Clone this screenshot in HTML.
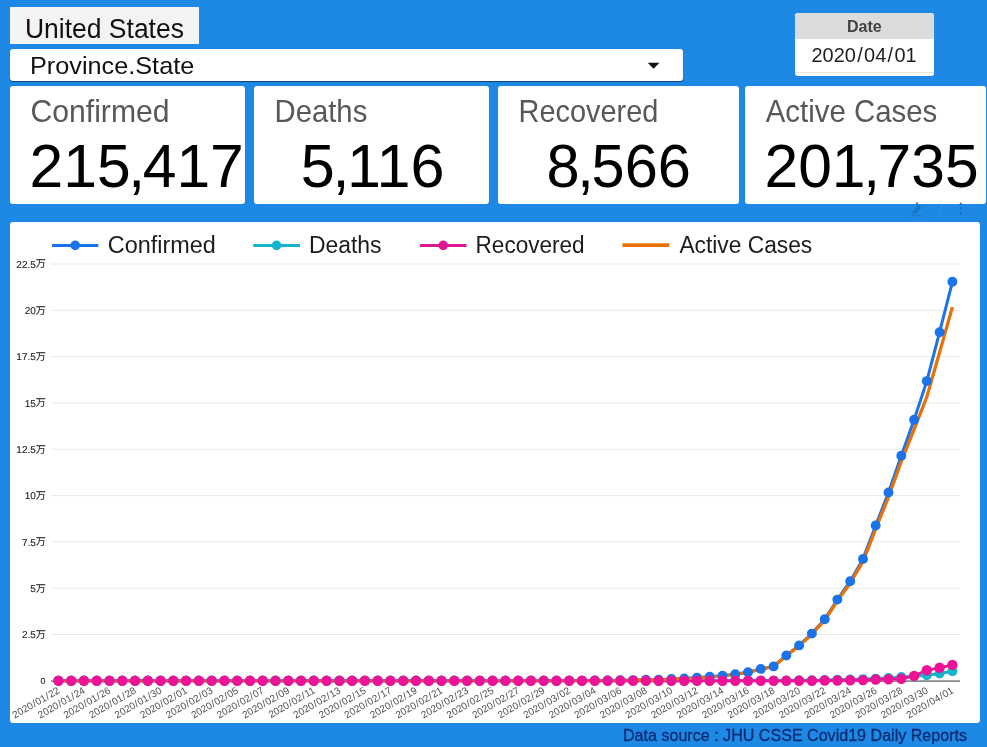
<!DOCTYPE html>
<html lang="en">
<head>
<meta charset="utf-8">
<title>COVID-19 United States</title>
<style>
html,body{margin:0;padding:0;}
body{width:987px;height:747px;overflow:hidden;position:relative;background:#1e88e5;font-family:"Liberation Sans", "Noto Sans CJK JP", sans-serif;}
.box{position:absolute;background:#fff;}
.chart{position:absolute;left:0;top:0;font-family:"Liberation Sans", "Noto Sans CJK JP", sans-serif;}
#country{left:10px;top:7px;width:189px;height:37px;background:#f1f3f4;}
#province{left:10px;top:49px;width:673px;height:32px;border-radius:3px;box-shadow:0 1px 1px rgba(0,0,0,.5);}
#date{left:795px;top:13px;width:139px;height:63px;border-radius:3px;overflow:hidden;}
#date .hd{position:absolute;left:0;top:0;width:100%;height:26px;background:#dcdcdc;}
#date .ln{position:absolute;left:0;top:59px;width:100%;height:1px;background:#e6e6e6;}
.card{top:86px;height:118px;border-radius:3px;}
#c1{left:10px;width:235px;}
#c2{left:254px;width:235px;}
#c3{left:498px;width:241px;}
#c4{left:745px;width:241px;}
#panel{left:10px;top:222px;width:970px;height:501px;border-radius:3px;}
</style>
</head>
<body>
<div class="box" id="country"></div>
<div class="box" id="province"></div>
<div class="box" id="date"><div class="hd"></div><div class="ln"></div></div>
<div class="box card" id="c1"></div>
<div class="box card" id="c2"></div>
<div class="box card" id="c3"></div>
<div class="box card" id="c4"></div>
<div class="box" id="panel"></div>
<svg class="chart" width="987" height="747" viewBox="0 0 987 747">
<g stroke="#e8e8e8" stroke-width="1">
<line x1="51" x2="960" y1="634.5" y2="634.5"/>
<line x1="51" x2="960" y1="588.2" y2="588.2"/>
<line x1="51" x2="960" y1="541.9" y2="541.9"/>
<line x1="51" x2="960" y1="495.6" y2="495.6"/>
<line x1="51" x2="960" y1="449.2" y2="449.2"/>
<line x1="51" x2="960" y1="402.9" y2="402.9"/>
<line x1="51" x2="960" y1="356.6" y2="356.6"/>
<line x1="51" x2="960" y1="310.3" y2="310.3"/>
<line x1="51" x2="960" y1="264.0" y2="264.0"/>
</g>
<line x1="51" x2="960" y1="681.1" y2="681.1" stroke="#8a8a8a" stroke-width="1.6"/>
<g class="yl" font-size="10" fill="#1a1a1a" stroke="#1a1a1a" stroke-width="0.1" text-anchor="end">
<text transform="translate(45.5 684.1) skewX(0.05)" font-size="8.9">0</text>
<text transform="translate(45.8 638.1) skewX(0.05)" dy="0 0 0 -0.3">2.5万</text>
<text transform="translate(45.8 591.8) skewX(0.05)" dy="0 -0.3">5万</text>
<text transform="translate(45.8 545.5) skewX(0.05)" dy="0 0 0 -0.3">7.5万</text>
<text transform="translate(45.8 499.2) skewX(0.05)" dy="0 0 -0.3">10万</text>
<text transform="translate(45.8 452.9) skewX(0.05)" dy="0 0 0 0 -0.3">12.5万</text>
<text transform="translate(45.8 406.6) skewX(0.05)" dy="0 0 -0.3">15万</text>
<text transform="translate(45.8 360.3) skewX(0.05)" dy="0 0 0 0 -0.3">17.5万</text>
<text transform="translate(45.8 314.0) skewX(0.05)" dy="0 0 -0.3">20万</text>
<text transform="translate(45.8 267.6) skewX(0.05)" dy="0 0 0 0 -0.3">22.5万</text>
</g>
<g class="xl" font-size="10" fill="#505050" text-anchor="end">
<text transform="translate(60.3 692.4) rotate(-30)" dx="0 0 0 0 .6 .6 0 .6 .6 0">2020/01/22</text>
<text transform="translate(85.8 692.4) rotate(-30)" dx="0 0 0 0 .6 .6 0 .6 .6 0">2020/01/24</text>
<text transform="translate(111.4 692.4) rotate(-30)" dx="0 0 0 0 .6 .6 0 .6 .6 0">2020/01/26</text>
<text transform="translate(136.9 692.4) rotate(-30)" dx="0 0 0 0 .6 .6 0 .6 .6 0">2020/01/28</text>
<text transform="translate(162.5 692.4) rotate(-30)" dx="0 0 0 0 .6 .6 0 .6 .6 0">2020/01/30</text>
<text transform="translate(188.0 692.4) rotate(-30)" dx="0 0 0 0 .6 .6 0 .6 .6 0">2020/02/01</text>
<text transform="translate(213.6 692.4) rotate(-30)" dx="0 0 0 0 .6 .6 0 .6 .6 0">2020/02/03</text>
<text transform="translate(239.1 692.4) rotate(-30)" dx="0 0 0 0 .6 .6 0 .6 .6 0">2020/02/05</text>
<text transform="translate(264.6 692.4) rotate(-30)" dx="0 0 0 0 .6 .6 0 .6 .6 0">2020/02/07</text>
<text transform="translate(290.2 692.4) rotate(-30)" dx="0 0 0 0 .6 .6 0 .6 .6 0">2020/02/09</text>
<text transform="translate(315.7 692.4) rotate(-30)" dx="0 0 0 0 .6 .6 0 .6 .6 0">2020/02/11</text>
<text transform="translate(341.3 692.4) rotate(-30)" dx="0 0 0 0 .6 .6 0 .6 .6 0">2020/02/13</text>
<text transform="translate(366.8 692.4) rotate(-30)" dx="0 0 0 0 .6 .6 0 .6 .6 0">2020/02/15</text>
<text transform="translate(392.3 692.4) rotate(-30)" dx="0 0 0 0 .6 .6 0 .6 .6 0">2020/02/17</text>
<text transform="translate(417.9 692.4) rotate(-30)" dx="0 0 0 0 .6 .6 0 .6 .6 0">2020/02/19</text>
<text transform="translate(443.4 692.4) rotate(-30)" dx="0 0 0 0 .6 .6 0 .6 .6 0">2020/02/21</text>
<text transform="translate(469.0 692.4) rotate(-30)" dx="0 0 0 0 .6 .6 0 .6 .6 0">2020/02/23</text>
<text transform="translate(494.5 692.4) rotate(-30)" dx="0 0 0 0 .6 .6 0 .6 .6 0">2020/02/25</text>
<text transform="translate(520.1 692.4) rotate(-30)" dx="0 0 0 0 .6 .6 0 .6 .6 0">2020/02/27</text>
<text transform="translate(545.6 692.4) rotate(-30)" dx="0 0 0 0 .6 .6 0 .6 .6 0">2020/02/29</text>
<text transform="translate(571.1 692.4) rotate(-30)" dx="0 0 0 0 .6 .6 0 .6 .6 0">2020/03/02</text>
<text transform="translate(596.7 692.4) rotate(-30)" dx="0 0 0 0 .6 .6 0 .6 .6 0">2020/03/04</text>
<text transform="translate(622.2 692.4) rotate(-30)" dx="0 0 0 0 .6 .6 0 .6 .6 0">2020/03/06</text>
<text transform="translate(647.8 692.4) rotate(-30)" dx="0 0 0 0 .6 .6 0 .6 .6 0">2020/03/08</text>
<text transform="translate(673.3 692.4) rotate(-30)" dx="0 0 0 0 .6 .6 0 .6 .6 0">2020/03/10</text>
<text transform="translate(698.9 692.4) rotate(-30)" dx="0 0 0 0 .6 .6 0 .6 .6 0">2020/03/12</text>
<text transform="translate(724.4 692.4) rotate(-30)" dx="0 0 0 0 .6 .6 0 .6 .6 0">2020/03/14</text>
<text transform="translate(749.9 692.4) rotate(-30)" dx="0 0 0 0 .6 .6 0 .6 .6 0">2020/03/16</text>
<text transform="translate(775.5 692.4) rotate(-30)" dx="0 0 0 0 .6 .6 0 .6 .6 0">2020/03/18</text>
<text transform="translate(801.0 692.4) rotate(-30)" dx="0 0 0 0 .6 .6 0 .6 .6 0">2020/03/20</text>
<text transform="translate(826.6 692.4) rotate(-30)" dx="0 0 0 0 .6 .6 0 .6 .6 0">2020/03/22</text>
<text transform="translate(852.1 692.4) rotate(-30)" dx="0 0 0 0 .6 .6 0 .6 .6 0">2020/03/24</text>
<text transform="translate(877.6 692.4) rotate(-30)" dx="0 0 0 0 .6 .6 0 .6 .6 0">2020/03/26</text>
<text transform="translate(903.2 692.4) rotate(-30)" dx="0 0 0 0 .6 .6 0 .6 .6 0">2020/03/28</text>
<text transform="translate(928.7 692.4) rotate(-30)" dx="0 0 0 0 .6 .6 0 .6 .6 0">2020/03/30</text>
<text transform="translate(954.3 692.4) rotate(-30)" dx="0 0 0 0 .6 .6 0 .6 .6 0">2020/04/01</text>
</g>
<polyline points="58.4,680.8 71.2,680.8 83.9,680.8 96.7,680.8 109.5,680.8 122.3,680.8 135.0,680.8 147.8,680.8 160.6,680.8 173.3,680.8 186.1,680.8 198.9,680.8 211.7,680.8 224.4,680.8 237.2,680.8 250.0,680.8 262.7,680.8 275.5,680.8 288.3,680.8 301.0,680.8 313.8,680.8 326.6,680.8 339.4,680.8 352.1,680.8 364.9,680.8 377.7,680.8 390.4,680.8 403.2,680.8 416.0,680.8 428.8,680.8 441.5,680.8 454.3,680.8 467.1,680.8 479.8,680.7 492.6,680.7 505.4,680.7 518.2,680.7 530.9,680.7 543.7,680.7 556.5,680.7 569.2,680.6 582.0,680.6 594.8,680.5 607.6,680.4 620.3,680.3 633.1,680.1 645.9,679.8 658.6,679.7 671.4,679.0 684.2,678.4 697.0,677.7 709.7,676.8 722.5,675.7 735.3,674.3 748.0,672.2 760.8,668.9 773.6,666.4 786.3,655.5 799.1,645.4 811.9,633.6 824.7,619.2 837.4,599.6 850.2,581.2 863.0,558.9 875.7,525.5 888.5,492.5 901.3,455.8 914.1,419.8 926.8,381.1 939.6,332.2 952.4,281.8" fill="none" stroke="#1a73e8" stroke-width="3" stroke-linejoin="round"/>
<polyline points="58.4,680.8 71.2,680.8 83.9,680.8 96.7,680.8 109.5,680.8 122.3,680.8 135.0,680.8 147.8,680.8 160.6,680.8 173.3,680.8 186.1,680.8 198.9,680.8 211.7,680.8 224.4,680.8 237.2,680.8 250.0,680.8 262.7,680.8 275.5,680.8 288.3,680.8 301.0,680.8 313.8,680.8 326.6,680.8 339.4,680.8 352.1,680.8 364.9,680.8 377.7,680.8 390.4,680.8 403.2,680.8 416.0,680.8 428.8,680.8 441.5,680.8 454.3,680.8 467.1,680.8 479.8,680.8 492.6,680.8 505.4,680.8 518.2,680.8 530.9,680.8 543.7,680.8 556.5,680.8 569.2,680.8 582.0,680.8 594.8,680.8 607.6,680.8 620.3,680.8 633.1,680.8 645.9,680.8 658.6,680.8 671.4,680.7 684.2,680.7 697.0,680.7 709.7,680.7 722.5,680.7 735.3,680.7 748.0,680.6 760.8,680.6 773.6,680.6 786.3,680.4 799.1,680.3 811.9,680.2 824.7,680.0 837.4,679.8 850.2,679.5 863.0,679.1 875.7,678.6 888.5,677.9 901.3,677.0 914.1,676.2 926.8,675.3 939.6,673.6 952.4,671.3" fill="none" stroke="#12b5cb" stroke-width="3" stroke-linejoin="round"/>
<polyline points="58.4,680.8 71.2,680.8 83.9,680.8 96.7,680.8 109.5,680.8 122.3,680.8 135.0,680.8 147.8,680.8 160.6,680.8 173.3,680.8 186.1,680.8 198.9,680.8 211.7,680.8 224.4,680.8 237.2,680.8 250.0,680.8 262.7,680.8 275.5,680.8 288.3,680.8 301.0,680.8 313.8,680.8 326.6,680.8 339.4,680.8 352.1,680.8 364.9,680.8 377.7,680.8 390.4,680.8 403.2,680.8 416.0,680.8 428.8,680.8 441.5,680.8 454.3,680.8 467.1,680.8 479.8,680.8 492.6,680.8 505.4,680.8 518.2,680.8 530.9,680.8 543.7,680.8 556.5,680.8 569.2,680.8 582.0,680.8 594.8,680.8 607.6,680.8 620.3,680.8 633.1,680.8 645.9,680.8 658.6,680.8 671.4,680.8 684.2,680.8 697.0,680.8 709.7,680.8 722.5,680.8 735.3,680.8 748.0,680.8 760.8,680.8 773.6,680.8 786.3,680.8 799.1,680.8 811.9,680.8 824.7,680.5 837.4,680.5 850.2,680.2 863.0,680.1 875.7,679.5 888.5,679.2 901.3,678.8 914.1,675.9 926.8,670.3 939.6,667.8 952.4,664.9" fill="none" stroke="#ee1296" stroke-width="2.8" stroke-linejoin="round"/>
<polyline points="58.4,680.8 71.2,680.8 83.9,680.8 96.7,680.8 109.5,680.8 122.3,680.8 135.0,680.8 147.8,680.8 160.6,680.8 173.3,680.8 186.1,680.8 198.9,680.8 211.7,680.8 224.4,680.8 237.2,680.8 250.0,680.8 262.7,680.8 275.5,680.8 288.3,680.8 301.0,680.8 313.8,680.8 326.6,680.8 339.4,680.8 352.1,680.8 364.9,680.8 377.7,680.8 390.4,680.8 403.2,680.8 416.0,680.8 428.8,680.8 441.5,680.8 454.3,680.8 467.1,680.8 479.8,680.7 492.6,680.7 505.4,680.7 518.2,680.7 530.9,680.7 543.7,680.7 556.5,680.7 569.2,680.6 582.0,680.6 594.8,680.5 607.6,680.4 620.3,680.3 633.1,680.1" fill="none" stroke="#e8710a" stroke-width="2.8" stroke-linejoin="round" stroke-opacity="0.5"/>
<polyline points="633.1,680.1 645.9,679.9 658.6,679.8 671.4,679.1 684.2,678.5 697.0,677.8 709.7,676.9 722.5,675.8 735.3,674.4 748.0,672.4 760.8,669.1 773.6,666.6 786.3,655.8 799.1,645.9 811.9,634.2 824.7,620.3 837.4,600.9 850.2,583.2 863.0,561.4 875.7,529.0 888.5,497.0 901.3,461.5 914.1,429.3 926.8,397.0 939.6,352.4 952.4,307.1" fill="none" stroke="#e8710a" stroke-width="3.3" stroke-linejoin="round"/>
<g fill="#1a73e8"><circle cx="58.4" cy="680.8" r="4.95"/><circle cx="71.2" cy="680.8" r="4.95"/><circle cx="83.9" cy="680.8" r="4.95"/><circle cx="96.7" cy="680.8" r="4.95"/><circle cx="109.5" cy="680.8" r="4.95"/><circle cx="122.3" cy="680.8" r="4.95"/><circle cx="135.0" cy="680.8" r="4.95"/><circle cx="147.8" cy="680.8" r="4.95"/><circle cx="160.6" cy="680.8" r="4.95"/><circle cx="173.3" cy="680.8" r="4.95"/><circle cx="186.1" cy="680.8" r="4.95"/><circle cx="198.9" cy="680.8" r="4.95"/><circle cx="211.7" cy="680.8" r="4.95"/><circle cx="224.4" cy="680.8" r="4.95"/><circle cx="237.2" cy="680.8" r="4.95"/><circle cx="250.0" cy="680.8" r="4.95"/><circle cx="262.7" cy="680.8" r="4.95"/><circle cx="275.5" cy="680.8" r="4.95"/><circle cx="288.3" cy="680.8" r="4.95"/><circle cx="301.0" cy="680.8" r="4.95"/><circle cx="313.8" cy="680.8" r="4.95"/><circle cx="326.6" cy="680.8" r="4.95"/><circle cx="339.4" cy="680.8" r="4.95"/><circle cx="352.1" cy="680.8" r="4.95"/><circle cx="364.9" cy="680.8" r="4.95"/><circle cx="377.7" cy="680.8" r="4.95"/><circle cx="390.4" cy="680.8" r="4.95"/><circle cx="403.2" cy="680.8" r="4.95"/><circle cx="416.0" cy="680.8" r="4.95"/><circle cx="428.8" cy="680.8" r="4.95"/><circle cx="441.5" cy="680.8" r="4.95"/><circle cx="454.3" cy="680.8" r="4.95"/><circle cx="467.1" cy="680.8" r="4.95"/><circle cx="479.8" cy="680.7" r="4.95"/><circle cx="492.6" cy="680.7" r="4.95"/><circle cx="505.4" cy="680.7" r="4.95"/><circle cx="518.2" cy="680.7" r="4.95"/><circle cx="530.9" cy="680.7" r="4.95"/><circle cx="543.7" cy="680.7" r="4.95"/><circle cx="556.5" cy="680.7" r="4.95"/><circle cx="569.2" cy="680.6" r="4.95"/><circle cx="582.0" cy="680.6" r="4.95"/><circle cx="594.8" cy="680.5" r="4.95"/><circle cx="607.6" cy="680.4" r="4.95"/><circle cx="620.3" cy="680.3" r="4.95"/><circle cx="633.1" cy="680.1" r="4.95"/><circle cx="645.9" cy="679.8" r="4.95"/><circle cx="658.6" cy="679.7" r="4.95"/><circle cx="671.4" cy="679.0" r="4.95"/><circle cx="684.2" cy="678.4" r="4.95"/><circle cx="697.0" cy="677.7" r="4.95"/><circle cx="709.7" cy="676.8" r="4.95"/><circle cx="722.5" cy="675.7" r="4.95"/><circle cx="735.3" cy="674.3" r="4.95"/><circle cx="748.0" cy="672.2" r="4.95"/><circle cx="760.8" cy="668.9" r="4.95"/><circle cx="773.6" cy="666.4" r="4.95"/><circle cx="786.3" cy="655.5" r="4.95"/><circle cx="799.1" cy="645.4" r="4.95"/><circle cx="811.9" cy="633.6" r="4.95"/><circle cx="824.7" cy="619.2" r="4.95"/><circle cx="837.4" cy="599.6" r="4.95"/><circle cx="850.2" cy="581.2" r="4.95"/><circle cx="863.0" cy="558.9" r="4.95"/><circle cx="875.7" cy="525.5" r="4.95"/><circle cx="888.5" cy="492.5" r="4.95"/><circle cx="901.3" cy="455.8" r="4.95"/><circle cx="914.1" cy="419.8" r="4.95"/><circle cx="926.8" cy="381.1" r="4.95"/><circle cx="939.6" cy="332.2" r="4.95"/><circle cx="952.4" cy="281.8" r="4.95"/></g>
<g fill="#12b5cb"><circle cx="58.4" cy="680.8" r="4.95"/><circle cx="71.2" cy="680.8" r="4.95"/><circle cx="83.9" cy="680.8" r="4.95"/><circle cx="96.7" cy="680.8" r="4.95"/><circle cx="109.5" cy="680.8" r="4.95"/><circle cx="122.3" cy="680.8" r="4.95"/><circle cx="135.0" cy="680.8" r="4.95"/><circle cx="147.8" cy="680.8" r="4.95"/><circle cx="160.6" cy="680.8" r="4.95"/><circle cx="173.3" cy="680.8" r="4.95"/><circle cx="186.1" cy="680.8" r="4.95"/><circle cx="198.9" cy="680.8" r="4.95"/><circle cx="211.7" cy="680.8" r="4.95"/><circle cx="224.4" cy="680.8" r="4.95"/><circle cx="237.2" cy="680.8" r="4.95"/><circle cx="250.0" cy="680.8" r="4.95"/><circle cx="262.7" cy="680.8" r="4.95"/><circle cx="275.5" cy="680.8" r="4.95"/><circle cx="288.3" cy="680.8" r="4.95"/><circle cx="301.0" cy="680.8" r="4.95"/><circle cx="313.8" cy="680.8" r="4.95"/><circle cx="326.6" cy="680.8" r="4.95"/><circle cx="339.4" cy="680.8" r="4.95"/><circle cx="352.1" cy="680.8" r="4.95"/><circle cx="364.9" cy="680.8" r="4.95"/><circle cx="377.7" cy="680.8" r="4.95"/><circle cx="390.4" cy="680.8" r="4.95"/><circle cx="403.2" cy="680.8" r="4.95"/><circle cx="416.0" cy="680.8" r="4.95"/><circle cx="428.8" cy="680.8" r="4.95"/><circle cx="441.5" cy="680.8" r="4.95"/><circle cx="454.3" cy="680.8" r="4.95"/><circle cx="467.1" cy="680.8" r="4.95"/><circle cx="479.8" cy="680.8" r="4.95"/><circle cx="492.6" cy="680.8" r="4.95"/><circle cx="505.4" cy="680.8" r="4.95"/><circle cx="518.2" cy="680.8" r="4.95"/><circle cx="530.9" cy="680.8" r="4.95"/><circle cx="543.7" cy="680.8" r="4.95"/><circle cx="556.5" cy="680.8" r="4.95"/><circle cx="569.2" cy="680.8" r="4.95"/><circle cx="582.0" cy="680.8" r="4.95"/><circle cx="594.8" cy="680.8" r="4.95"/><circle cx="607.6" cy="680.8" r="4.95"/><circle cx="620.3" cy="680.8" r="4.95"/><circle cx="633.1" cy="680.8" r="4.95"/><circle cx="645.9" cy="680.8" r="4.95"/><circle cx="658.6" cy="680.8" r="4.95"/><circle cx="671.4" cy="680.7" r="4.95"/><circle cx="684.2" cy="680.7" r="4.95"/><circle cx="697.0" cy="680.7" r="4.95"/><circle cx="709.7" cy="680.7" r="4.95"/><circle cx="722.5" cy="680.7" r="4.95"/><circle cx="735.3" cy="680.7" r="4.95"/><circle cx="748.0" cy="680.6" r="4.95"/><circle cx="760.8" cy="680.6" r="4.95"/><circle cx="773.6" cy="680.6" r="4.95"/><circle cx="786.3" cy="680.4" r="4.95"/><circle cx="799.1" cy="680.3" r="4.95"/><circle cx="811.9" cy="680.2" r="4.95"/><circle cx="824.7" cy="680.0" r="4.95"/><circle cx="837.4" cy="679.8" r="4.95"/><circle cx="850.2" cy="679.5" r="4.95"/><circle cx="863.0" cy="679.1" r="4.95"/><circle cx="875.7" cy="678.6" r="4.95"/><circle cx="888.5" cy="677.9" r="4.95"/><circle cx="901.3" cy="677.0" r="4.95"/><circle cx="914.1" cy="676.2" r="4.95"/><circle cx="926.8" cy="675.3" r="4.95"/><circle cx="939.6" cy="673.6" r="4.95"/><circle cx="952.4" cy="671.3" r="4.95"/></g>
<g fill="#ee1296"><circle cx="58.4" cy="680.8" r="5.2"/><circle cx="71.2" cy="680.8" r="5.2"/><circle cx="83.9" cy="680.8" r="5.2"/><circle cx="96.7" cy="680.8" r="5.2"/><circle cx="109.5" cy="680.8" r="5.2"/><circle cx="122.3" cy="680.8" r="5.2"/><circle cx="135.0" cy="680.8" r="5.2"/><circle cx="147.8" cy="680.8" r="5.2"/><circle cx="160.6" cy="680.8" r="5.2"/><circle cx="173.3" cy="680.8" r="5.2"/><circle cx="186.1" cy="680.8" r="5.2"/><circle cx="198.9" cy="680.8" r="5.2"/><circle cx="211.7" cy="680.8" r="5.2"/><circle cx="224.4" cy="680.8" r="5.2"/><circle cx="237.2" cy="680.8" r="5.2"/><circle cx="250.0" cy="680.8" r="5.2"/><circle cx="262.7" cy="680.8" r="5.2"/><circle cx="275.5" cy="680.8" r="5.2"/><circle cx="288.3" cy="680.8" r="5.2"/><circle cx="301.0" cy="680.8" r="5.2"/><circle cx="313.8" cy="680.8" r="5.2"/><circle cx="326.6" cy="680.8" r="5.2"/><circle cx="339.4" cy="680.8" r="5.2"/><circle cx="352.1" cy="680.8" r="5.2"/><circle cx="364.9" cy="680.8" r="5.2"/><circle cx="377.7" cy="680.8" r="5.2"/><circle cx="390.4" cy="680.8" r="5.2"/><circle cx="403.2" cy="680.8" r="5.2"/><circle cx="416.0" cy="680.8" r="5.2"/><circle cx="428.8" cy="680.8" r="5.2"/><circle cx="441.5" cy="680.8" r="5.2"/><circle cx="454.3" cy="680.8" r="5.2"/><circle cx="467.1" cy="680.8" r="5.2"/><circle cx="479.8" cy="680.8" r="5.2"/><circle cx="492.6" cy="680.8" r="5.2"/><circle cx="505.4" cy="680.8" r="5.2"/><circle cx="518.2" cy="680.8" r="5.2"/><circle cx="530.9" cy="680.8" r="5.2"/><circle cx="543.7" cy="680.8" r="5.2"/><circle cx="556.5" cy="680.8" r="5.2"/><circle cx="569.2" cy="680.8" r="5.2"/><circle cx="582.0" cy="680.8" r="5.2"/><circle cx="594.8" cy="680.8" r="5.2"/><circle cx="607.6" cy="680.8" r="5.2"/><circle cx="620.3" cy="680.8" r="5.2"/><circle cx="633.1" cy="680.8" r="5.2"/><circle cx="645.9" cy="680.8" r="5.2"/><circle cx="658.6" cy="680.8" r="5.2"/><circle cx="671.4" cy="680.8" r="5.2"/><circle cx="684.2" cy="680.8" r="5.2"/><circle cx="697.0" cy="680.8" r="5.2"/><circle cx="709.7" cy="680.8" r="5.2"/><circle cx="722.5" cy="680.8" r="5.2"/><circle cx="735.3" cy="680.8" r="5.2"/><circle cx="748.0" cy="680.8" r="5.2"/><circle cx="760.8" cy="680.8" r="5.2"/><circle cx="773.6" cy="680.8" r="5.2"/><circle cx="786.3" cy="680.8" r="5.2"/><circle cx="799.1" cy="680.8" r="5.2"/><circle cx="811.9" cy="680.8" r="5.2"/><circle cx="824.7" cy="680.5" r="5.2"/><circle cx="837.4" cy="680.5" r="5.2"/><circle cx="850.2" cy="680.2" r="5.2"/><circle cx="863.0" cy="680.1" r="5.2"/><circle cx="875.7" cy="679.5" r="5.2"/><circle cx="888.5" cy="679.2" r="5.2"/><circle cx="901.3" cy="678.8" r="5.2"/><circle cx="914.1" cy="675.9" r="5.2"/><circle cx="926.8" cy="670.3" r="5.2"/><circle cx="939.6" cy="667.8" r="5.2"/><circle cx="952.4" cy="664.9" r="5.2"/></g>
<polygon points="647.7,62.8 659.5,62.8 653.6,68.7" fill="#111"/>
<g class="tools" fill="#10243f"><circle cx="960.8" cy="203.6" r="1.15" fill-opacity="0.6"/><circle cx="960.8" cy="208.3" r="1.1" fill-opacity="0.28"/><circle cx="960.8" cy="212.8" r="1.1" fill-opacity="0.3"/><circle cx="917.1" cy="203.4" r="1.15" fill-opacity="0.6"/><path d="M912.6 214.6 L912.9 211.4 L918.6 204.6 L921.4 206.9 L915.7 213.8 Z" fill-opacity="0.18"/><path d="M912.4 215.6 H922.6" stroke="#10243f" stroke-opacity="0.15" stroke-width="1" fill="none"/><rect x="940.5" y="200" width="1" height="4" fill="#000" fill-opacity="0.08"/><rect x="940.5" y="204" width="1" height="12" fill="#fff" fill-opacity="0.06"/></g>
<line x1="52" x2="98.3" y1="245.4" y2="245.4" stroke="#1a73e8" stroke-width="3"/><circle cx="75.2" cy="245.4" r="4.8" fill="#1a73e8"/>
<line x1="253.3" x2="300" y1="245.4" y2="245.4" stroke="#12b5cb" stroke-width="3"/><circle cx="276.6" cy="245.4" r="4.8" fill="#12b5cb"/>
<line x1="419.9" x2="466.5" y1="245.4" y2="245.4" stroke="#de1794" stroke-width="3"/><circle cx="443.2" cy="245.4" r="4.8" fill="#de1794"/>
<line x1="622.4" x2="669.3" y1="245.1" y2="245.1" stroke="#e8710a" stroke-width="3.8"/>
</svg>
<svg class="chart" width="987" height="747" viewBox="0 0 987 747">
<text transform="translate(25.00 38) scale(0.9630 1.0)" font-size="27.5" font-weight="400" fill="#111">United States</text>
<text transform="translate(30.00 74) scale(1.0533 1.0)" font-size="24" font-weight="400" fill="#111">Province.State</text>
<text transform="translate(847.00 32) scale(1.0027 1.0)" font-size="16.0" font-weight="700" fill="#424242">Date</text>
<text transform="translate(811.50 62) scale(0.9981 1.0)" font-size="20" font-weight="400" fill="#1f1f1f" dx="0 0 0 0 1.3 1.3 0 1.3 1.3 0">2020/04/01</text>
<text transform="translate(30.45 122) scale(0.9890 1.0)" font-size="30.5" font-weight="400" fill="#585858">Confirmed</text>
<text transform="translate(274.50 122) scale(0.9608 1.0)" font-size="30.5" font-weight="400" fill="#585858">Deaths</text>
<text transform="translate(518.50 122) scale(0.9487 1.0)" font-size="30.5" font-weight="400" fill="#585858">Recovered</text>
<text transform="translate(765.70 122) scale(0.9647 1.0)" font-size="30.5" font-weight="400" fill="#585858">Active Cases</text>
<text transform="translate(29.60 187) scale(1.0016 1.0)" font-size="60.5" font-weight="400" fill="#000" dx="0 0 0 -2.4 -2.4 0 0">215,417</text>
<text transform="translate(300.87 187) scale(1.0114 1.0)" font-size="60.5" font-weight="400" fill="#000" dx="0 -2.4 -2.4 0 0">5,116</text>
<text transform="translate(546.58 187) scale(0.9845 1.0)" font-size="60.5" font-weight="400" fill="#000" dx="0 -2.4 -2.4 0 0">8,566</text>
<text transform="translate(764.50 187) scale(1.0013 1.0)" font-size="60.5" font-weight="400" fill="#000" dx="0 0 0 -2.4 -2.4 0 0">201,735</text>
<text transform="translate(107.80 253) scale(0.9970 1.0)" font-size="23.5" font-weight="400" fill="#1c1c1c">Confirmed</text>
<text transform="translate(308.93 253) scale(0.9754 1.0)" font-size="23.5" font-weight="400" fill="#1c1c1c">Deaths</text>
<text transform="translate(475.56 253) scale(0.9601 1.0)" font-size="23.5" font-weight="400" fill="#1c1c1c">Recovered</text>
<text transform="translate(679.40 253) scale(0.9693 1.0)" font-size="23.5" font-weight="400" fill="#1c1c1c">Active Cases</text>
<text stroke="#082a70" stroke-width="0.25" transform="translate(623.00 741) scale(1.0059 1.0)" font-size="16.0" font-weight="400" fill="#082a70">Data source : JHU CSSE Covid19 Daily Reports</text>
</svg>
</body>
</html>
